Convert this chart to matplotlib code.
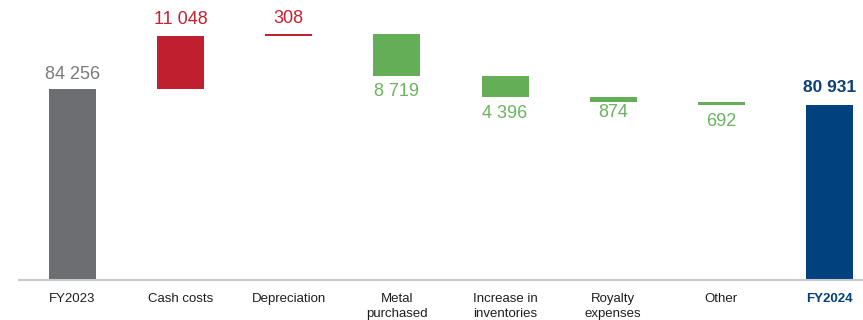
import matplotlib
matplotlib.use("Agg")
import matplotlib.pyplot as plt

categories = ["FY2023", "Cash costs", "Depreciation", "Metal\npurchased",
              "Increase in\ninventories", "Royalty\nexpenses", "Other", "FY2024"]
start_value = 84256
changes = [11048, 308, -8719, -4396, -874, -692]
end_value = 80931
labels = ["84 256", "11 048", "308", "8 719", "4 396", "874", "692", "80 931"]

plt.rcParams['font.family'] = ['Liberation Sans', 'DejaVu Sans']

fig = plt.figure(figsize=(8.63, 3.2), dpi=100)
ax = fig.add_axes([19/863, 40/320, 1 - 19/863, 280/320])

GRAY = "#6d6e71"
RED = "#c01f2f"
GREEN = "#63ae57"
BLUE = "#00417e"
LBL_GRAY = "#7b7b7b"
LBL_RED = "#c8202f"
LBL_GREEN = "#6ab45e"
LBL_BLUE = "#0b3f77"

width = 0.435
x = list(range(len(categories)))

bottoms = [0]
heights = [start_value]
colors = [GRAY]
running = start_value
for c in changes:
    if c >= 0:
        bottoms.append(running)
        heights.append(c)
        colors.append(RED)
    else:
        bottoms.append(running + c)
        heights.append(-c)
        colors.append(GREEN)
    running += c
bottoms.append(0)
heights.append(end_value)
colors.append(BLUE)

ax.bar(x, heights, width=width, bottom=bottoms, color=colors, linewidth=0)

ymin = 44430
ax.set_ylim(ymin, 102800)
ax.set_xlim(-0.495, 7.31)

label_colors = [LBL_GRAY, LBL_RED, LBL_RED, LBL_GREEN, LBL_GREEN, LBL_GREEN, LBL_GREEN, LBL_BLUE]
above = [True, True, True, False, False, False, False, True]
offsets = [4.5, 5.5, 5.5, 5, 5.5, 1.5, 5.5, 7]
for i in x:
    top = bottoms[i] + heights[i]
    bot = bottoms[i]
    if above[i]:
        ax.annotate(labels[i], (i, top), xytext=(0, offsets[i]), textcoords="offset points",
                    ha="center", va="bottom", fontsize=12.5 if i == 7 else 13,
                    color=label_colors[i],
                    fontweight="bold" if i == 7 else "normal")
    else:
        ax.annotate(labels[i], (i, bot), xytext=(0, -offsets[i]), textcoords="offset points",
                    ha="center", va="top", fontsize=13, color=label_colors[i])

ax.set_xticks(x)
ax.set_xticklabels(categories, fontsize=9.5, linespacing=1.3)
for i, t in enumerate(ax.get_xticklabels()):
    t.set_color("#1e1e1e")
    t.set_verticalalignment("top")
    if i == 7:
        t.set_color(BLUE)
        t.set_fontweight("bold")
ax.tick_params(axis="x", length=0, pad=9.5)
ax.set_yticks([])
for s in ["top", "right", "left"]:
    ax.spines[s].set_visible(False)
ax.spines["bottom"].set_color("#c8c8c8")
ax.spines["bottom"].set_linewidth(1.5)

fig.savefig("out.png", dpi=100)
